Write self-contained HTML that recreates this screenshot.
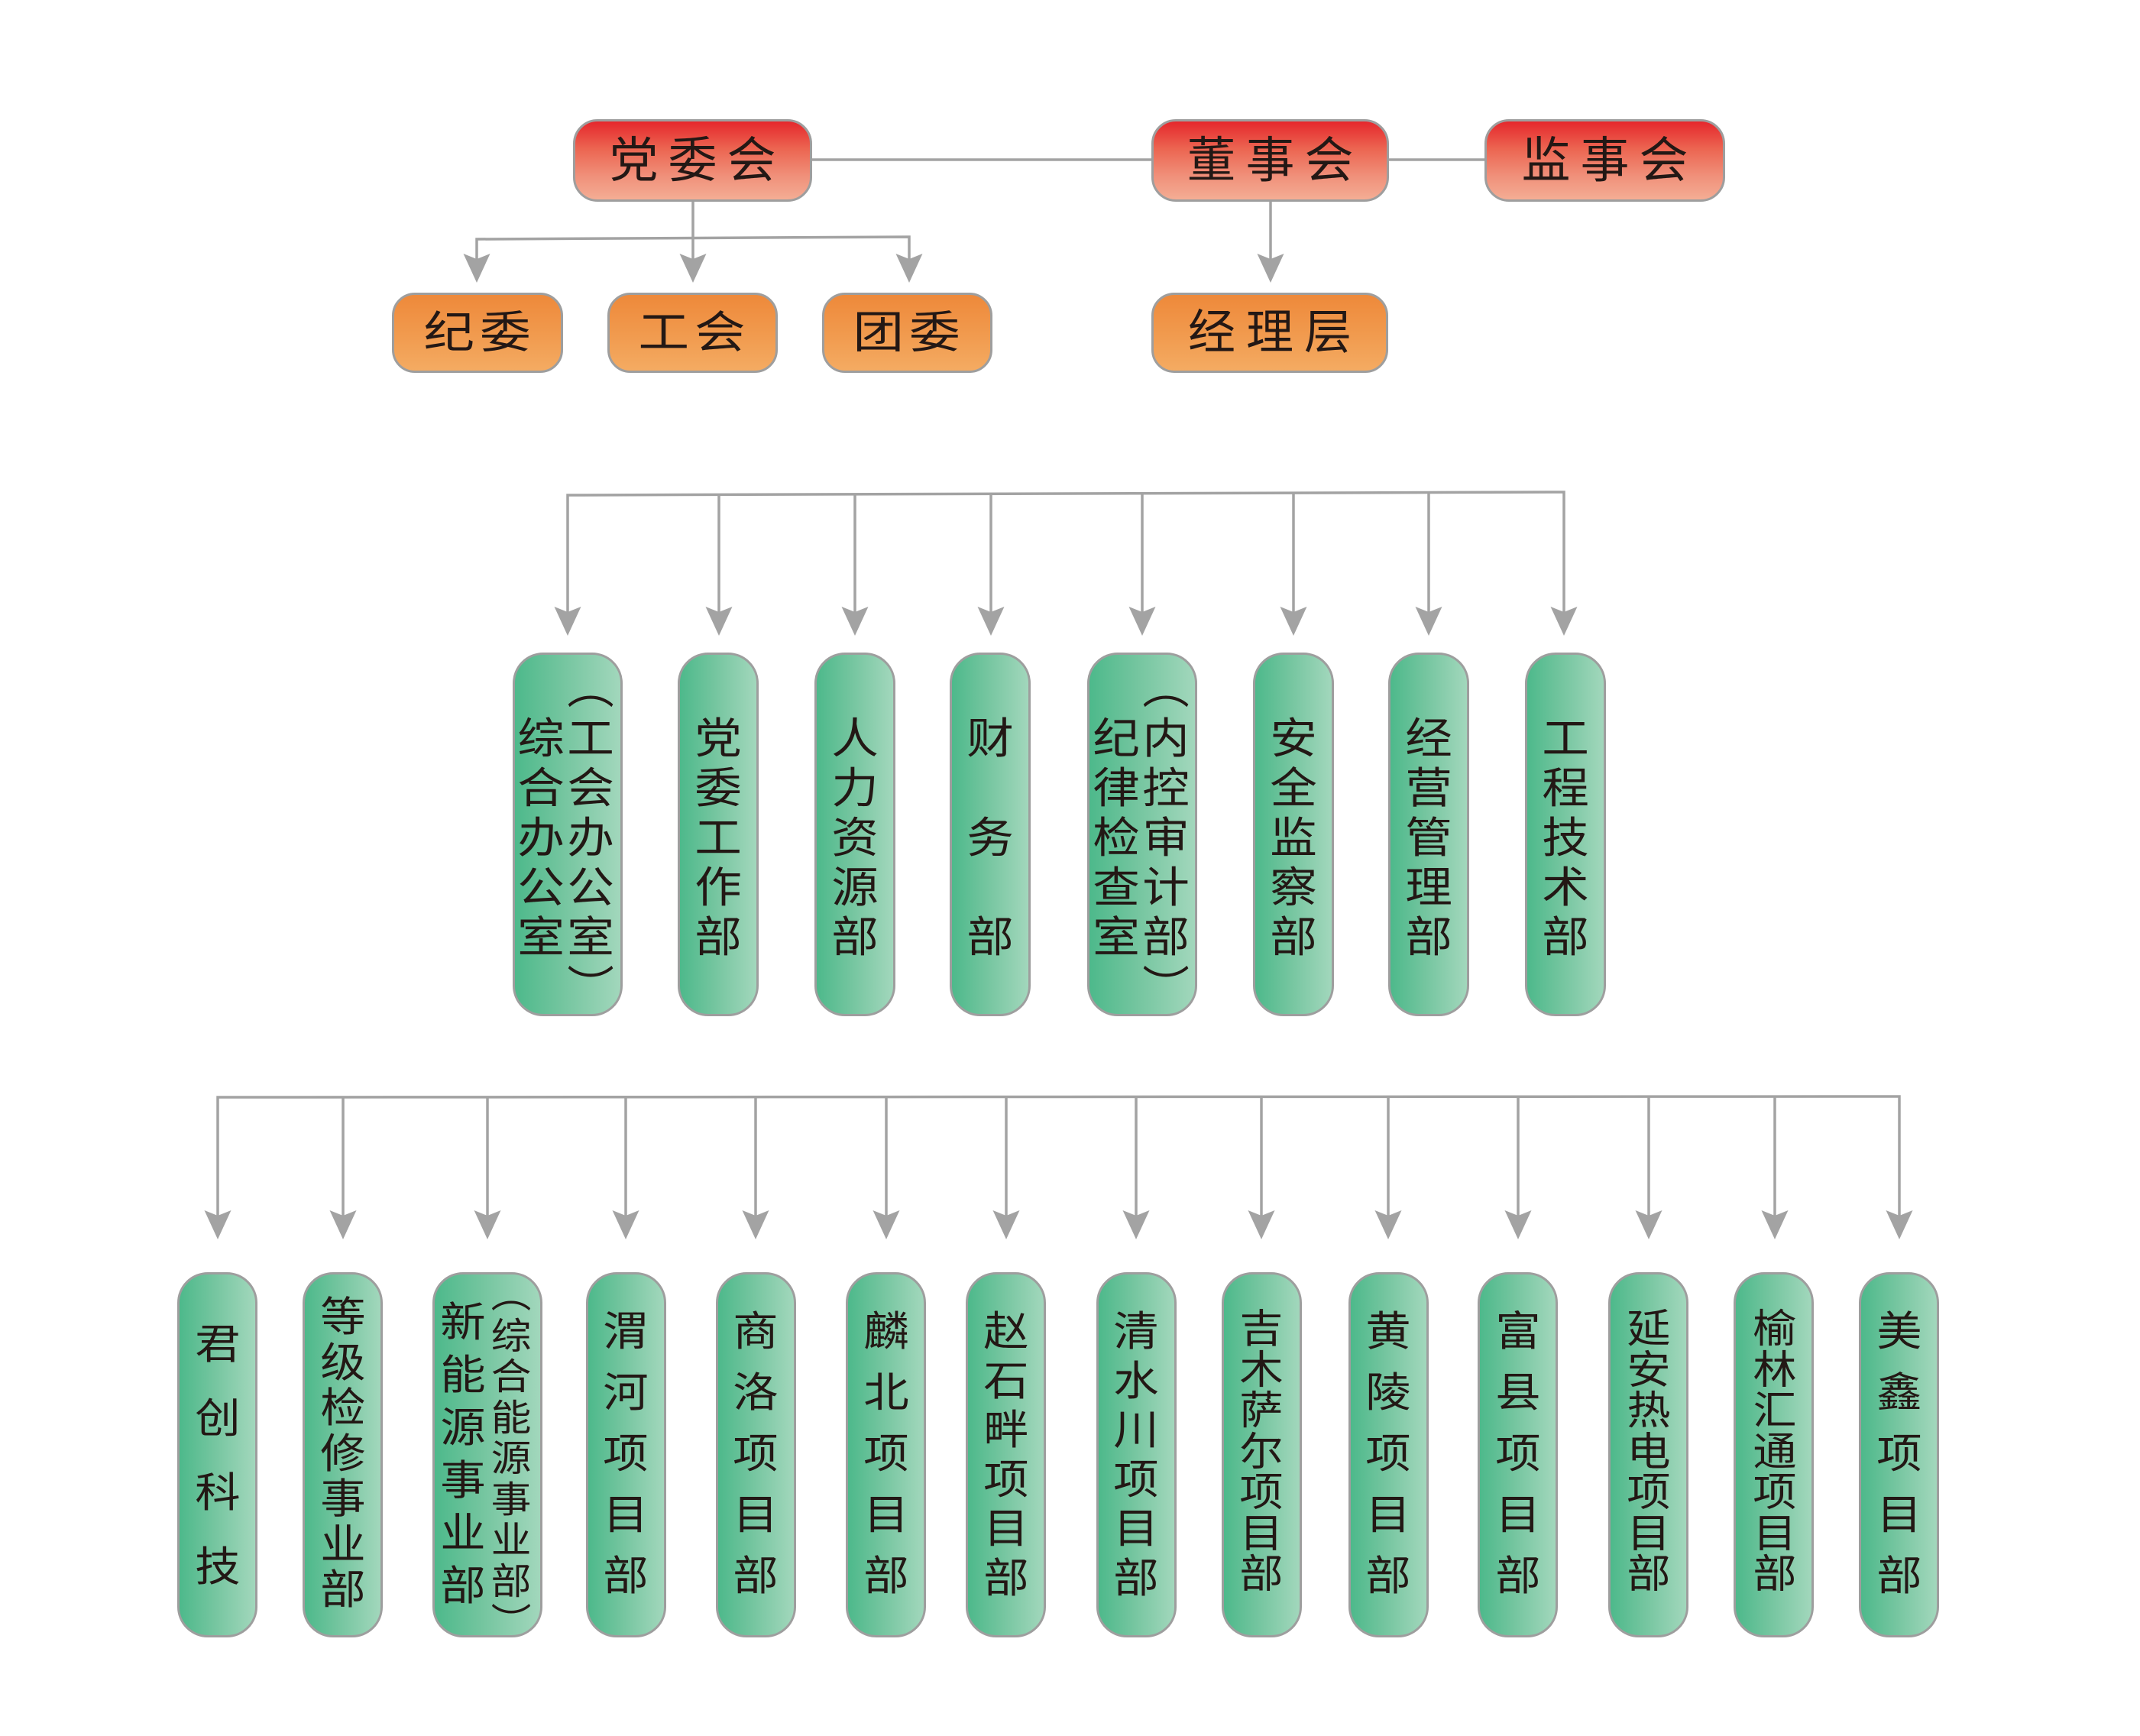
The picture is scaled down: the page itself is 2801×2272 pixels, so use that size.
<!DOCTYPE html>
<html><head><meta charset="utf-8">
<style>
html,body{margin:0;padding:0;background:#fff;}
body{width:2801px;height:2272px;position:relative;overflow:hidden;font-family:"Liberation Sans","Noto Sans CJK SC",sans-serif;color:#231815;}
.bx{position:absolute;box-sizing:border-box;border:3.5px solid #9e9e9e;}
.red{background:linear-gradient(to bottom,#e5272c 0%,#ec6551 35%,#f0907a 70%,#f4ad94 100%);border-radius:32px;display:flex;align-items:center;justify-content:center;}
.org{background:linear-gradient(to bottom,#ee893a 0%,#f19b4f 55%,#f4ab62 100%);border-radius:30px;display:flex;align-items:center;justify-content:center;}
.grn{background:linear-gradient(to right,#4db98b 0%,#74c59f 45%,#a2d7bc 100%);border-radius:40px;}
.t1{font-size:64px;line-height:1;letter-spacing:13px;margin-right:-13px;white-space:nowrap;}
.t2{font-size:58px;line-height:1;letter-spacing:6px;margin-right:-6px;white-space:nowrap;transform:scaleX(1.15);display:inline-block;}
.t3{font-size:62px;line-height:1;letter-spacing:14px;margin-right:-14px;white-space:nowrap;}
.v{position:absolute;width:90px;text-align:center;}
.v b{display:block;font-weight:normal;line-height:1;transform:scaleX(1.1);}
svg{position:absolute;left:0;top:0;}
</style></head><body>

<svg width="2801" height="2272" viewBox="0 0 2801 2272">
<g stroke="#a3a3a3" stroke-width="3.5" fill="none">
<line x1="1063" y1="209" x2="1507" y2="209"/>
<line x1="1818" y1="209" x2="1943" y2="209"/>
<line x1="907" y1="264" x2="907" y2="345"/>
<polyline points="624,345 624,313 1190,310 1190,345"/>
<line x1="1663" y1="264" x2="1663" y2="345"/>
<polyline points="743,810 743,648 2047,644 2047,810"/>
<line x1="941" y1="647" x2="941" y2="810"/>
<line x1="1119" y1="646" x2="1119" y2="810"/>
<line x1="1297" y1="646" x2="1297" y2="810"/>
<line x1="1495" y1="646" x2="1495" y2="810"/>
<line x1="1693" y1="645" x2="1693" y2="810"/>
<line x1="1870" y1="645" x2="1870" y2="810"/>
<polyline points="285,1600 285,1436 2486,1435 2486,1600"/>
<line x1="449" y1="1436" x2="449" y2="1600"/>
<line x1="638" y1="1436" x2="638" y2="1600"/>
<line x1="819" y1="1436" x2="819" y2="1600"/>
<line x1="989" y1="1436" x2="989" y2="1600"/>
<line x1="1160" y1="1436" x2="1160" y2="1600"/>
<line x1="1317" y1="1436" x2="1317" y2="1600"/>
<line x1="1487" y1="1436" x2="1487" y2="1600"/>
<line x1="1651" y1="1435" x2="1651" y2="1600"/>
<line x1="1817" y1="1435" x2="1817" y2="1600"/>
<line x1="1987" y1="1435" x2="1987" y2="1600"/>
<line x1="2158" y1="1435" x2="2158" y2="1600"/>
<line x1="2323" y1="1435" x2="2323" y2="1600"/>
</g>
<g fill="#a3a3a3">
<path d="M624,370 L606.5,332 L624,339 L641.5,332 Z"/>
<path d="M907,370 L889.5,332 L907,339 L924.5,332 Z"/>
<path d="M1190,370 L1172.5,332 L1190,339 L1207.5,332 Z"/>
<path d="M1663,370 L1645.5,332 L1663,339 L1680.5,332 Z"/>

<path d="M743,832 L725.5,794 L743,801 L760.5,794 Z"/>
<path d="M941,832 L923.5,794 L941,801 L958.5,794 Z"/>
<path d="M1119,832 L1101.5,794 L1119,801 L1136.5,794 Z"/>
<path d="M1297,832 L1279.5,794 L1297,801 L1314.5,794 Z"/>
<path d="M1495,832 L1477.5,794 L1495,801 L1512.5,794 Z"/>
<path d="M1693,832 L1675.5,794 L1693,801 L1710.5,794 Z"/>
<path d="M1870,832 L1852.5,794 L1870,801 L1887.5,794 Z"/>
<path d="M2047,832 L2029.5,794 L2047,801 L2064.5,794 Z"/>

<path d="M285,1622 L267.5,1584 L285,1591 L302.5,1584 Z"/>
<path d="M449,1622 L431.5,1584 L449,1591 L466.5,1584 Z"/>
<path d="M638,1622 L620.5,1584 L638,1591 L655.5,1584 Z"/>
<path d="M819,1622 L801.5,1584 L819,1591 L836.5,1584 Z"/>
<path d="M989,1622 L971.5,1584 L989,1591 L1006.5,1584 Z"/>
<path d="M1160,1622 L1142.5,1584 L1160,1591 L1177.5,1584 Z"/>
<path d="M1317,1622 L1299.5,1584 L1317,1591 L1334.5,1584 Z"/>
<path d="M1487,1622 L1469.5,1584 L1487,1591 L1504.5,1584 Z"/>
<path d="M1651,1622 L1633.5,1584 L1651,1591 L1668.5,1584 Z"/>
<path d="M1817,1622 L1799.5,1584 L1817,1591 L1834.5,1584 Z"/>
<path d="M1987,1622 L1969.5,1584 L1987,1591 L2004.5,1584 Z"/>
<path d="M2158,1622 L2140.5,1584 L2158,1591 L2175.5,1584 Z"/>
<path d="M2323,1622 L2305.5,1584 L2323,1591 L2340.5,1584 Z"/>
<path d="M2486,1622 L2468.5,1584 L2486,1591 L2503.5,1584 Z"/>
</g>
</svg>

<!-- Top row -->
<div class="bx red" style="left:750px;top:156px;width:313px;height:108px;"><span class="t1">党委会</span></div>
<div class="bx red" style="left:1507px;top:156px;width:311px;height:108px;"><span class="t1">董事会</span></div>
<div class="bx red" style="left:1943px;top:156px;width:315px;height:108px;"><span class="t1">监事会</span></div>

<!-- Second row -->
<div class="bx org" style="left:513px;top:383px;width:224px;height:105px;"><span class="t2">纪委</span></div>
<div class="bx org" style="left:795px;top:383px;width:223px;height:105px;"><span class="t2">工会</span></div>
<div class="bx org" style="left:1076px;top:383px;width:223px;height:105px;"><span class="t2">团委</span></div>
<div class="bx org" style="left:1507px;top:383px;width:310px;height:105px;"><span class="t3">经理层</span></div>

<!-- Middle row boxes -->
<div class="bx grn" style="left:671px;top:854px;width:144px;height:476px;"></div>
<div class="bx grn" style="left:887px;top:854px;width:106px;height:476px;"></div>
<div class="bx grn" style="left:1066px;top:854px;width:106px;height:476px;"></div>
<div class="bx grn" style="left:1243px;top:854px;width:106px;height:476px;"></div>
<div class="bx grn" style="left:1423px;top:854px;width:144px;height:476px;"></div>
<div class="bx grn" style="left:1640px;top:854px;width:106px;height:476px;"></div>
<div class="bx grn" style="left:1817px;top:854px;width:106px;height:476px;"></div>
<div class="bx grn" style="left:1996px;top:854px;width:106px;height:476px;"></div>

<!-- Middle row text -->
<div class="v" style="left:663px;top:939px;font-size:56px;"><b style="height:65px">综</b><b style="height:65px">合</b><b style="height:65px">办</b><b style="height:65px">公</b><b style="height:65px">室</b></div>
<div class="v" style="left:728px;top:874px;font-size:56px;"><b style="height:65px">︵</b><b style="height:65px">工</b><b style="height:65px">会</b><b style="height:65px">办</b><b style="height:65px">公</b><b style="height:65px">室</b><b style="height:65px">︶</b></div>

<div class="v" style="left:895px;top:939px;font-size:56px;"><b style="height:65px">党</b><b style="height:65px">委</b><b style="height:65px">工</b><b style="height:65px">作</b><b style="height:65px">部</b></div>
<div class="v" style="left:1074px;top:939px;font-size:56px;"><b style="height:65px">人</b><b style="height:65px">力</b><b style="height:65px">资</b><b style="height:65px">源</b><b style="height:65px">部</b></div>
<div class="v" style="left:1251px;top:939px;font-size:56px;"><b style="height:130px">财</b><b style="height:130px">务</b><b style="height:65px">部</b></div>

<div class="v" style="left:1416px;top:939px;font-size:56px;"><b style="height:65px">纪</b><b style="height:65px">律</b><b style="height:65px">检</b><b style="height:65px">查</b><b style="height:65px">室</b></div>
<div class="v" style="left:1481px;top:874px;font-size:56px;"><b style="height:65px">︵</b><b style="height:65px">内</b><b style="height:65px">控</b><b style="height:65px">审</b><b style="height:65px">计</b><b style="height:65px">部</b><b style="height:65px">︶</b></div>

<div class="v" style="left:1648px;top:939px;font-size:56px;"><b style="height:65px">安</b><b style="height:65px">全</b><b style="height:65px">监</b><b style="height:65px">察</b><b style="height:65px">部</b></div>
<div class="v" style="left:1825px;top:939px;font-size:56px;"><b style="height:65px">经</b><b style="height:65px">营</b><b style="height:65px">管</b><b style="height:65px">理</b><b style="height:65px">部</b></div>
<div class="v" style="left:2004px;top:939px;font-size:56px;"><b style="height:65px">工</b><b style="height:65px">程</b><b style="height:65px">技</b><b style="height:65px">术</b><b style="height:65px">部</b></div>

<!-- Bottom row boxes -->
<div class="bx grn" style="left:232px;top:1665px;width:105px;height:478px;"></div>
<div class="bx grn" style="left:396px;top:1665px;width:105px;height:478px;"></div>
<div class="bx grn" style="left:566px;top:1665px;width:144px;height:478px;"></div>
<div class="bx grn" style="left:767px;top:1665px;width:105px;height:478px;"></div>
<div class="bx grn" style="left:937px;top:1665px;width:105px;height:478px;"></div>
<div class="bx grn" style="left:1107px;top:1665px;width:105px;height:478px;"></div>
<div class="bx grn" style="left:1264px;top:1665px;width:105px;height:478px;"></div>
<div class="bx grn" style="left:1435px;top:1665px;width:105px;height:478px;"></div>
<div class="bx grn" style="left:1599px;top:1665px;width:105px;height:478px;"></div>
<div class="bx grn" style="left:1765px;top:1665px;width:105px;height:478px;"></div>
<div class="bx grn" style="left:1934px;top:1665px;width:105px;height:478px;"></div>
<div class="bx grn" style="left:2105px;top:1665px;width:105px;height:478px;"></div>
<div class="bx grn" style="left:2269px;top:1665px;width:105px;height:478px;"></div>
<div class="bx grn" style="left:2433px;top:1665px;width:105px;height:478px;"></div>

<!-- Bottom row text -->
<div class="v" style="left:240px;top:1733px;font-size:54px;"><b style="height:97px">君</b><b style="height:97px">创</b><b style="height:97px">科</b><b style="height:97px">技</b></div>
<div class="v" style="left:404px;top:1697px;font-size:54px;"><b style="height:59.5px">等</b><b style="height:59.5px">级</b><b style="height:59.5px">检</b><b style="height:59.5px">修</b><b style="height:59.5px">事</b><b style="height:59.5px">业</b><b style="height:59.5px">部</b></div>

<div class="v" style="left:561px;top:1704px;font-size:54px;"><b style="height:69px">新</b><b style="height:69px">能</b><b style="height:69px">源</b><b style="height:69px">事</b><b style="height:69px">业</b><b style="height:69px">部</b></div>
<div class="v" style="left:624px;top:1672px;font-size:48px;"><b style="height:53.5px">︵</b><b style="height:53.5px">综</b><b style="height:53.5px">合</b><b style="height:53.5px">能</b><b style="height:53.5px">源</b><b style="height:53.5px">事</b><b style="height:53.5px">业</b><b style="height:53.5px">部</b><b style="height:53.5px">︶</b></div>

<div class="v" style="left:774px;top:1716px;font-size:54px;"><b style="height:80px">渭</b><b style="height:80px">河</b><b style="height:80px">项</b><b style="height:80px">目</b><b style="height:80px">部</b></div>
<div class="v" style="left:944px;top:1716px;font-size:54px;"><b style="height:80px">商</b><b style="height:80px">洛</b><b style="height:80px">项</b><b style="height:80px">目</b><b style="height:80px">部</b></div>
<div class="v" style="left:1115px;top:1716px;font-size:54px;"><b style="height:80px">麟</b><b style="height:80px">北</b><b style="height:80px">项</b><b style="height:80px">目</b><b style="height:80px">部</b></div>
<div class="v" style="left:1272px;top:1716px;font-size:54px;"><b style="height:64.5px">赵</b><b style="height:64.5px">石</b><b style="height:64.5px">畔</b><b style="height:64.5px">项</b><b style="height:64.5px">目</b><b style="height:64.5px">部</b></div>
<div class="v" style="left:1442px;top:1716px;font-size:54px;"><b style="height:64.5px">清</b><b style="height:64.5px">水</b><b style="height:64.5px">川</b><b style="height:64.5px">项</b><b style="height:64.5px">目</b><b style="height:64.5px">部</b></div>
<div class="v" style="left:1606px;top:1714px;font-size:52px;"><b style="height:53.5px">吉</b><b style="height:53.5px">木</b><b style="height:53.5px">萨</b><b style="height:53.5px">尔</b><b style="height:53.5px">项</b><b style="height:53.5px">目</b><b style="height:53.5px">部</b></div>
<div class="v" style="left:1772px;top:1716px;font-size:54px;"><b style="height:80px">黄</b><b style="height:80px">陵</b><b style="height:80px">项</b><b style="height:80px">目</b><b style="height:80px">部</b></div>
<div class="v" style="left:1942px;top:1716px;font-size:54px;"><b style="height:80px">富</b><b style="height:80px">县</b><b style="height:80px">项</b><b style="height:80px">目</b><b style="height:80px">部</b></div>
<div class="v" style="left:2113px;top:1714px;font-size:52px;"><b style="height:53.5px">延</b><b style="height:53.5px">安</b><b style="height:53.5px">热</b><b style="height:53.5px">电</b><b style="height:53.5px">项</b><b style="height:53.5px">目</b><b style="height:53.5px">部</b></div>
<div class="v" style="left:2278px;top:1714px;font-size:52px;"><b style="height:53.5px">榆</b><b style="height:53.5px">林</b><b style="height:53.5px">汇</b><b style="height:53.5px">通</b><b style="height:53.5px">项</b><b style="height:53.5px">目</b><b style="height:53.5px">部</b></div>
<div class="v" style="left:2441px;top:1716px;font-size:54px;"><b style="height:80px">美</b><b style="height:80px">鑫</b><b style="height:80px">项</b><b style="height:80px">目</b><b style="height:80px">部</b></div>

</body></html>
